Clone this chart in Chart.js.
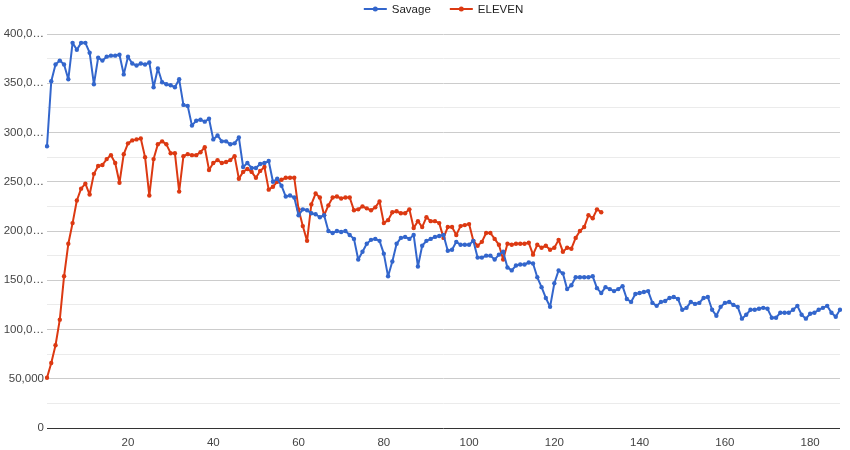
<!DOCTYPE html>
<html>
<head>
<meta charset="utf-8">
<script src="https://cdn.jsdelivr.net/npm/chart.js@4.4.1/dist/chart.umd.min.js"></script>
<style>
  html, body { margin: 0; padding: 0; background: #fff; }
  #wrap { width: 850px; height: 450px; }
</style>
</head>
<body>
<div id="wrap"><canvas id="chart" width="850" height="450"></canvas></div>
<script>
// values in thousands, one per day
const savage = [
  286, 352, 369, 373, 369, 354, 391, 384, 391, 391,
  381, 349, 376, 373, 377, 378, 378, 379, 359, 377,
  370, 368, 370, 369, 371, 346, 365, 351, 349, 348,
  346, 354, 328, 327, 307, 312, 313, 311, 314, 293,
  297, 291, 291, 288, 289, 295, 265, 269, 264, 264,
  268, 269, 271, 250, 253, 246, 235, 236, 234, 216,
  222, 221, 218, 217, 214, 216, 200, 198, 200, 199,
  200, 196, 192, 171, 179, 187, 191, 192, 190, 177,
  154, 169, 187, 193, 194, 192, 196, 164, 185, 190,
  192, 194, 195, 196, 180, 181, 189, 186, 186, 186,
  190, 173, 173, 175, 175, 171, 176, 179, 163, 160,
  165, 166, 166, 168, 167, 153, 143, 132, 123, 147,
  160, 157, 141, 145, 153, 153, 153, 153, 154, 142,
  137, 143, 141, 139, 141, 144, 131, 128, 136, 137,
  138, 139, 127, 124, 128, 129, 132, 133, 131, 120,
  122, 128, 126, 127, 132, 133, 120, 114, 123, 127,
  128, 125, 123, 111, 115, 120, 120, 121, 122, 121,
  112, 112, 117, 117, 117, 120, 124, 115, 111, 116,
  117, 120, 122, 124, 117, 113, 120
];
const eleven = [
  51, 66, 84, 110, 154, 187, 208, 231, 243, 248,
  237, 258, 266, 267, 273, 277, 269, 249, 278, 289,
  292, 293, 294, 275, 236, 273, 288, 291, 288, 279,
  279, 240, 276, 278, 277, 277, 280, 285, 262, 269,
  272, 269, 270, 272, 276, 253, 260, 263, 260, 254,
  261, 265, 242, 245, 250, 252, 254, 254, 254, 222,
  205, 190, 227, 238, 234, 216, 226, 234, 235, 233,
  234, 234, 221, 222, 225, 223, 221, 224, 230, 208,
  211, 219, 220, 218, 218, 222, 203, 210, 204, 214,
  210, 210, 208, 193, 204, 204, 196, 205, 206, 207,
  190, 185, 189, 198, 198, 192, 186, 171, 187, 186,
  187, 187, 187, 188, 176, 186, 183, 185, 181, 183,
  191, 179, 183, 182, 193, 200, 204, 216, 213, 222,
  219
];
const seriesNames = ['Savage', 'ELEVEN'];
const seriesColors = ['#3366cc', '#dc3912'];
const xTicks = [20, 40, 60, 80, 100, 120, 140, 160, 180];
const yTicks = [0, 50, 100, 150, 200, 250, 300, 350, 400];
const yTickText = ['0', '50,000', '100,0…', '150,0…', '200,0…', '250,0…', '300,0…', '350,0…', '400,0…'];

const days = savage.map((_, i) => i + 1);
const FONT = 'Arial, "Liberation Sans", sans-serif';

// google-style legend: short line with a dot, centred over the plot
const lineLegend = {
  id: 'lineLegend',
  afterDraw(chart) {
    const ctx = chart.ctx;
    const area = chart.chartArea;
    ctx.save();
    ctx.font = `11.5px ${FONT}`;
    ctx.textBaseline = 'middle';
    const items = chart.data.datasets.map((ds) => ({
      ds,
      w: 23 + 5 + ctx.measureText(ds.label).width,
    }));
    const gap = 19;
    const total = items.reduce((s, it) => s + it.w, 0) + gap * (items.length - 1);
    let x = (area.left + area.right) / 2 - total / 2;
    const y = 9;
    items.forEach(({ ds, w }) => {
      ctx.strokeStyle = ds.borderColor;
      ctx.lineWidth = 2;
      ctx.beginPath();
      ctx.moveTo(x, y);
      ctx.lineTo(x + 23, y);
      ctx.stroke();
      ctx.fillStyle = ds.borderColor;
      ctx.beginPath();
      ctx.arc(x + 11.5, y, 2.5, 0, Math.PI * 2);
      ctx.fill();
      ctx.fillStyle = '#222';
      ctx.fillText(ds.label, x + 28, y + 0.5);
      x += w + gap;
    });
    ctx.restore();
  },
};

const line = (label, data, color) => ({
  label,
  data,
  borderColor: color,
  backgroundColor: color,
  borderWidth: 2,
  borderJoinStyle: 'round',
  pointRadius: 2.2,
  pointBorderWidth: 0,
  pointBackgroundColor: color,
  pointHoverRadius: 2.2,
  tension: 0,
  fill: false,
});

new Chart(document.getElementById('chart').getContext('2d'), {
  type: 'line',
  data: {
    labels: days,
    datasets: [
      line(seriesNames[0], savage, seriesColors[0]),
      line(seriesNames[1], eleven, seriesColors[1]),
    ],
  },
  options: {
    responsive: false,
    animation: false,
    events: [],
    layout: { padding: { top: 34, right: 10, bottom: 0, left: 0 } },
    plugins: { legend: { display: false }, tooltip: { enabled: false } },
    scales: {
      x: {
        type: 'category',
        offset: false,
        grid: { display: false, drawTicks: false },
        border: { display: false },
        ticks: {
          autoSkip: false,
          maxRotation: 0,
          padding: 8,
          color: '#444',
          font: { family: FONT, size: 11.5 },
          callback: (v, i) => (xTicks.includes(days[i]) ? String(days[i]) : ''),
        },
        afterFit: (s) => { s.height = 22; },
      },
      y: {
        min: 0,
        max: 400,
        grid: {
          drawTicks: false,
          lineWidth: 1,
          color: (c) =>
            c.tick.value === 0 ? '#333' : c.tick.value % 50 === 0 ? '#cccccc' : '#ebebeb',
        },
        border: { display: false },
        ticks: {
          stepSize: 25,
          padding: 3,
          color: '#444',
          font: { family: FONT, size: 11.5 },
          callback: (v) => {
            const k = yTicks.indexOf(v);
            return k >= 0 ? yTickText[k] : '';
          },
        },
        afterFit: (s) => { s.width = 47; },
      },
    },
  },
  plugins: [lineLegend],
});
</script>
</body>
</html>
